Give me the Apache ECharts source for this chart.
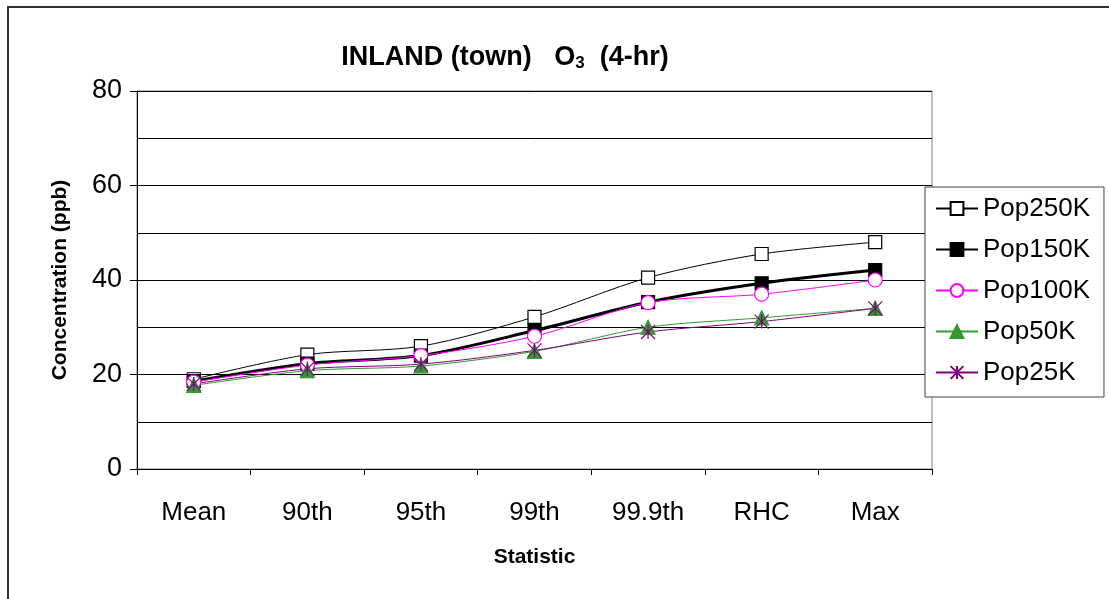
<!DOCTYPE html>
<html>
<head>
<meta charset="utf-8">
<script src="https://cdn.jsdelivr.net/npm/echarts@6/dist/echarts.min.js"></script>
<style>
html,body{margin:0;padding:0;background:#fff;}
#chart{width:1109px;height:599px;}
</style>
</head>
<body>
<div id="chart"></div>
<script>
const categories = ['Mean', '90th', '95th', '99th', '99.9th', 'RHC', 'Max'];
const pop250K = [19.0, 24.2, 26.0, 32.2, 40.5, 45.5, 48.0];
const pop150K = [18.6, 22.3, 24.0, 29.3, 35.3, 39.3, 42.1];
const pop100K = [18.4, 22.0, 24.0, 28.1, 35.2, 37.0, 40.0];
const pop50K  = [17.7, 20.8, 21.8, 24.9, 30.0, 32.0, 34.0];
const pop25K  = [18.0, 21.2, 22.2, 25.1, 29.0, 31.2, 34.0];
const yTicks = [0, 20, 40, 60, 80];

const starPath = 'path://M0,0 L10,10 M10,0 L0,10 M5,0 L5,10 M4.5,5 L5.5,5';
const FONT = 'Liberation Sans, Arial, sans-serif';

const chart = echarts.init(document.getElementById('chart'), null, {renderer: 'canvas'});

function mk(name, data, color, width, symbol, size, fill) {
  return {
    name: name,
    type: 'line',
    data: data,
    smooth: 0.3,
    symbol: symbol,
    symbolSize: size,
    showSymbol: true,
    lineStyle: {color: color, width: width},
    itemStyle: {color: fill, borderColor: color, borderWidth: 1.2},
    emphasis: {disabled: true},
    animation: false
  };
}

chart.setOption({
  animation: false,
  backgroundColor: '#ffffff',
  graphic: [{
    type: 'rect',
    shape: {x: 8, y: 7, width: 1300, height: 800},
    style: {fill: 'none', stroke: '#333333', lineWidth: 2},
    silent: true,
    z: -10
  }],
  title: {
    text: '{a|INLAND (town)   O}{s|3}{a|  (4-hr)}',
    left: 500,
    textAlign: 'center',
    top: 38,
    textStyle: {
      rich: {
        a: {fontFamily: FONT, fontWeight: 'bold', fontSize: 27, color: '#000'},
        s: {fontFamily: FONT, fontWeight: 'bold', fontSize: 17, color: '#000', verticalAlign: 'bottom', padding: [12, 0, 0, 0]}
      }
    }
  },
  legend: {
    orient: 'vertical',
    left: 925,
    top: 187,
    padding: [8, 14, 11, 10],
    itemGap: 14,
    itemWidth: 42,
    itemHeight: 16,
    backgroundColor: '#ffffff',
    borderColor: '#404040',
    borderWidth: 1,
    textStyle: {fontFamily: FONT, fontSize: 26, color: '#000', lineHeight: 27},
    data: ['Pop250K', 'Pop150K', 'Pop100K', 'Pop50K', 'Pop25K']
  },
  grid: {left: 137, right: 177, top: 91, bottom: 130, show: true, borderColor: '#808080', borderWidth: 1},
  xAxis: {
    type: 'category',
    data: categories,
    boundaryGap: true,
    name: 'Statistic',
    nameLocation: 'middle',
    nameGap: 78,
    nameTextStyle: {fontFamily: FONT, fontWeight: 'bold', fontSize: 21, color: '#000'},
    axisLine: {lineStyle: {color: '#000', width: 1}},
    axisTick: {show: true, alignWithLabel: false, length: 6, inside: false, lineStyle: {color: '#000'}},
    axisLabel: {fontFamily: FONT, fontSize: 26, color: '#000', margin: 31},
    splitLine: {show: false}
  },
  yAxis: {
    type: 'value',
    min: yTicks[0],
    max: yTicks[yTicks.length - 1],
    interval: 20,
    name: 'Concentration (ppb)',
    nameLocation: 'middle',
    nameGap: 66,
    nameTextStyle: {fontFamily: FONT, fontWeight: 'bold', fontSize: 21, color: '#000'},
    axisLine: {show: true, lineStyle: {color: '#000', width: 1}},
    axisTick: {show: true, length: 7, lineStyle: {color: '#000'}},
    axisLabel: {fontFamily: FONT, fontSize: 27, color: '#000', margin: 15},
    splitLine: {show: true, lineStyle: {color: '#000', width: 1}},
    minorTick: {show: false, splitNumber: 2},
    minorSplitLine: {show: true, lineStyle: {color: '#000', width: 1}}
  },
  series: [
    mk('Pop250K', pop250K, '#000000', 1, 'rect', 13, '#ffffff'),
    mk('Pop150K', pop150K, '#000000', 3, 'rect', 13, '#000000'),
    mk('Pop100K', pop100K, '#ff00ff', 1, 'circle', 14, '#ffffff'),
    mk('Pop50K', pop50K, '#339933', 1, 'triangle', 14, '#339933'),
    mk('Pop25K', pop25K, '#800080', 1, starPath, 14, '#800080')
  ]
});
</script>
</body>
</html>
